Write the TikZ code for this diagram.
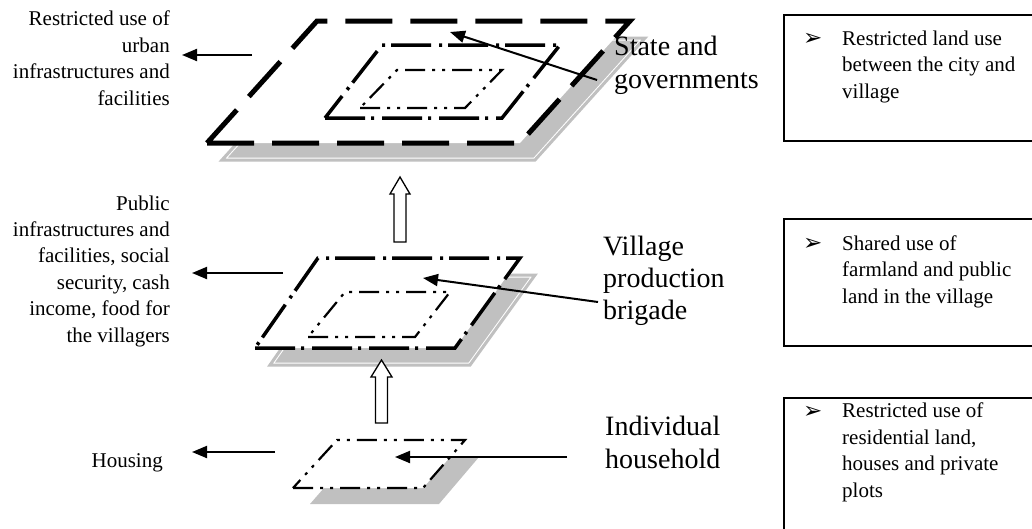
\documentclass[tikz,border=0pt]{standalone}
\usepackage{fontspec}
\setmainfont{Liberation Serif}
\newfontfamily\symfont{DejaVu Sans}
\usetikzlibrary{arrows.meta}
\definecolor{shadowgray}{RGB}{192,192,192}
\begin{document}
\begin{tikzpicture}[x=1pt,y=-1pt,
  smalltxt/.style={font=\fontsize{21}{26.4}\selectfont, inner sep=0pt},
  bigtxt/.style={font=\fontsize{28}{33}\selectfont, inner sep=0pt, align=left},
  bullettxt/.style={font=\symfont\bfseries\fontsize{23}{26}\selectfont, inner sep=0pt},
  shadowpl/.style={fill=shadowgray, draw=white, line width=5pt, line join=miter,
     postaction={draw=shadowgray, line width=3pt}},
  plainshadow/.style={fill=shadowgray},
  planeA/.style={fill=white, draw=black, line width=5pt, line join=miter, dash pattern=on 47pt off 18pt},
  planeB/.style={draw=black, line width=3.5pt, line join=miter, dash pattern=on 40pt off 6pt on 3pt off 8pt},
  planeC/.style={draw=black, line width=2.2pt, line join=miter, dash pattern=on 20pt off 7pt on 3pt off 7pt on 3pt off 7pt},
  arr/.style={-{Triangle[length=15pt,width=12pt]}, line width=2pt},
  blockarr/.style={fill=white, draw=black, line width=1.3pt, line join=miter},
  rbox/.style={draw=black, line width=1.6pt, inner sep=0pt, anchor=north west},
]
\useasboundingbox (0,0) rectangle (1032,528);

% ---------- top level: state ----------
\coordinate (ta1) at (207,143); \coordinate (ta2) at (520,143);
\coordinate (ta3) at (630,21);  \coordinate (ta4) at (317,21);
\path[shadowpl] ([shift={(15,17)}]ta1) -- ([shift={(15,17)}]ta2) -- ([shift={(15,17)}]ta3) -- ([shift={(15,17)}]ta4) -- cycle;
\path[planeA] (ta1) -- (ta2) -- (ta3) -- (ta4) -- cycle;
\draw[planeB] (325,118) -- (502,118) -- (560,45) -- (382,45) -- cycle;
\draw[planeC] (360,108) -- (465,108) -- (502,70) -- (397,70) -- cycle;

% ---------- middle level: village ----------
\coordinate (ma1) at (255,348); \coordinate (ma2) at (455,348);
\coordinate (ma3) at (520,258); \coordinate (ma4) at (318,258);
\path[shadowpl] ([shift={(15,17)}]ma1) -- ([shift={(15,17)}]ma2) -- ([shift={(15,17)}]ma3) -- ([shift={(15,17)}]ma4) -- cycle;
\path[planeB, fill=white] (ma1) -- (ma2) -- (ma3) -- (ma4) -- cycle;
\draw[planeC] (308,337) -- (415,337) -- (450,292) -- (345,292) -- cycle;

% ---------- bottom level: household ----------
\coordinate (ba1) at (293,488); \coordinate (ba2) at (423,488);
\coordinate (ba3) at (465,440); \coordinate (ba4) at (337,440);
\path[plainshadow] ([shift={(17,16)}]ba1) -- ([shift={(16,16)}]ba2) -- ([shift={(14,17)}]ba3) -- ([shift={(14,17)}]ba4) -- cycle;
\path[planeC, fill=white] (ba1) -- (ba2) -- (ba3) -- (ba4) -- cycle;

% ---------- hollow block arrows ----------
\draw[blockarr] (394,242) -- (406,242) -- (406,194) -- (410,194) -- (400,177) -- (390,194) -- (394,194) -- cycle;
\draw[blockarr] (375.5,423) -- (387.5,423) -- (387.5,377) -- (392,377) -- (381.5,360) -- (371,377) -- (375.5,377) -- cycle;

% ---------- left labels (anchored at last baseline) ----------
\node[smalltxt, align=right, anchor=base east] (l1) at (170,105)
  {Restricted use of\\urban\\infrastructures and\\facilities};
\node[smalltxt, align=right, anchor=base east] (l2) at (170,342)
  {Public\\infrastructures and\\facilities, social\\security, cash\\income, food for\\the villagers};
\node[smalltxt, anchor=base east] (l3) at (163,467) {Housing};

\coordinate (la1s) at (252,55);  \coordinate (la1e) at (182,55);
\coordinate (la2s) at (283,273); \coordinate (la2e) at (192,273);
\coordinate (la3s) at (275,452); \coordinate (la3e) at (192,452);
\draw[arr] (la1s) -- (la1e);
\draw[arr] (la2s) -- (la2e);
\draw[arr] (la3s) -- (la3e);

% ---------- middle labels ----------
\node[bigtxt, anchor=base west] (c1) at (614,88) {State and\\governments};
\node[bigtxt, anchor=base west, font=\fontsize{28}{32}\selectfont] (c2) at (603,319) {Village\\production\\brigade};
\node[bigtxt, anchor=base west] (c3) at (605,468) {Individual\\household};

\coordinate (ca1s) at (597,80);  \coordinate (ca1e) at (450,32);
\coordinate (ca2s) at (598,302); \coordinate (ca2e) at (423,278);
\coordinate (ca3s) at (567,457); \coordinate (ca3e) at (395,457);
\draw[arr] (ca1s) -- (ca1e);
\draw[arr] (ca2s) -- (ca2e);
\draw[arr] (ca3s) -- (ca3e);

% ---------- right boxes ----------
\node[rbox, minimum width=262pt, minimum height=126pt] (r1) at (783,14) {};
\node[rbox, minimum width=262pt, minimum height=127pt] (r2) at (783,218) {};
\node[rbox, minimum width=262pt, minimum height=140pt] (r3) at (783,397) {};

\node[bullettxt, anchor=base west] (b1) at (803,45) {➢};
\node[bullettxt, anchor=base west] (b2) at (803,250) {➢};
\node[bullettxt, anchor=base west] (b3) at (803,418) {➢};

\node[smalltxt, align=left, anchor=base west] (t1) at (842,98)
  {Restricted land use\\between the city and\\village};
\node[smalltxt, align=left, anchor=base west] (t2) at (842,303)
  {Shared use of\\farmland and public\\land in the village};
\node[smalltxt, align=left, anchor=base west] (t3) at (842,497)
  {Restricted use of\\residential land,\\houses and private\\plots};
\end{tikzpicture}
\end{document}
